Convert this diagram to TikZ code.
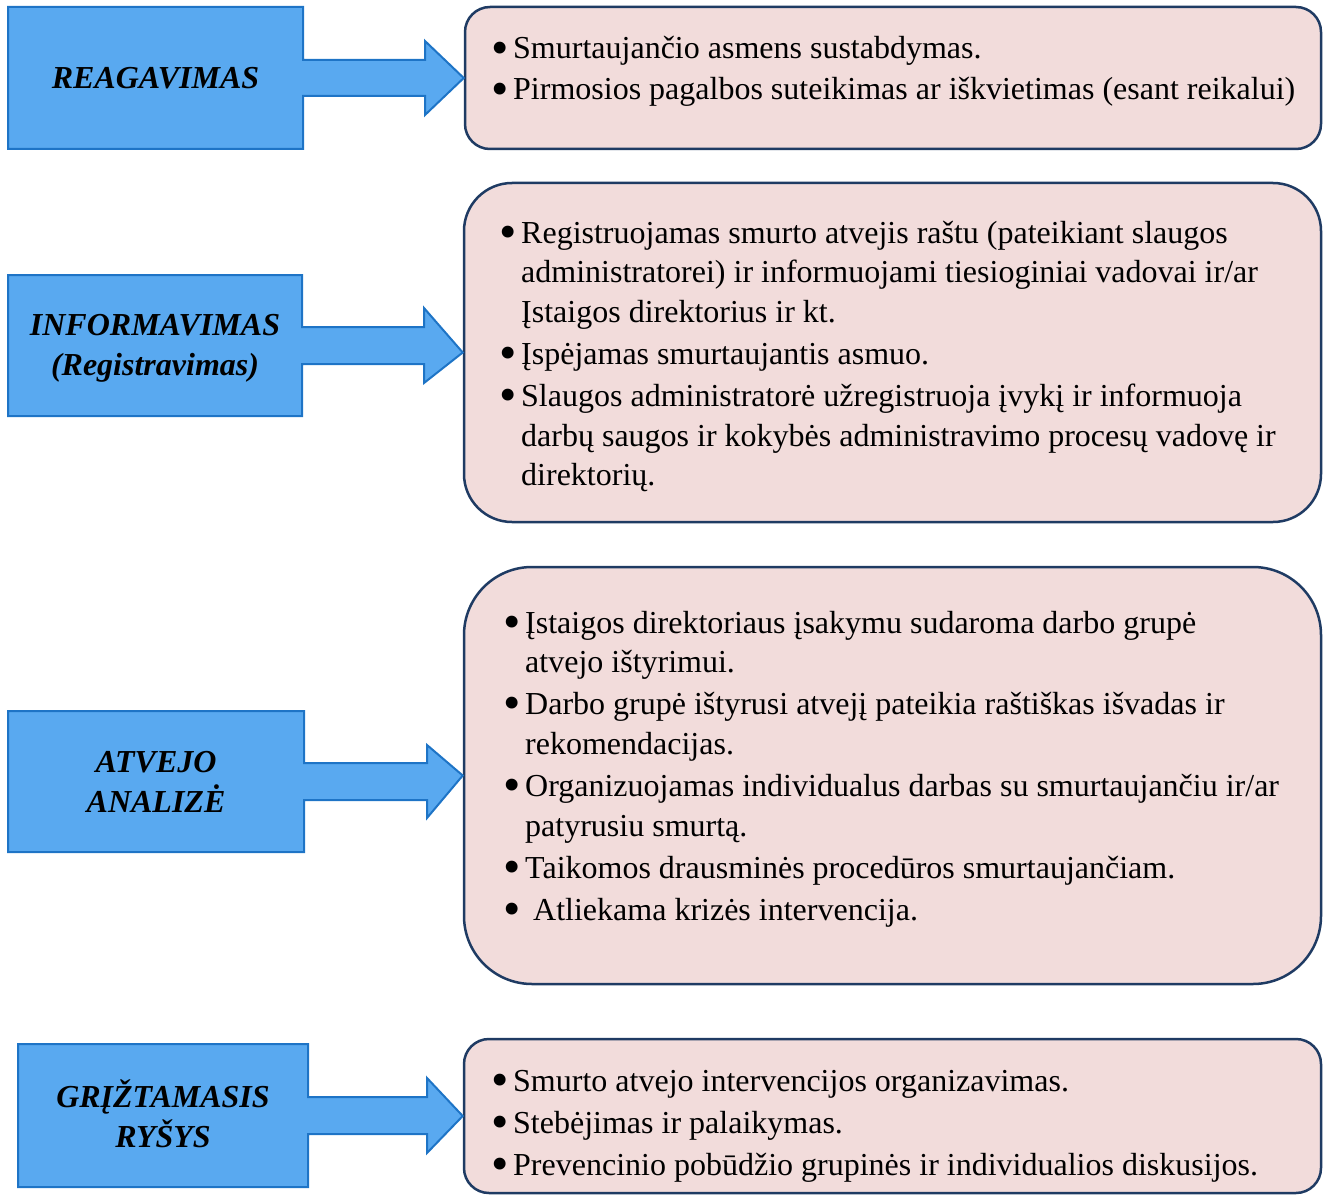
\documentclass[tikz,border=0pt]{standalone}
\usepackage{fontspec}
\usepackage{graphicx}
\setmainfont{Liberation Serif}
\definecolor{bfill}{HTML}{59A9F0}
\definecolor{bline}{HTML}{1E74C6}
\definecolor{pfill}{HTML}{F2DCDB}
\definecolor{pline}{HTML}{1F3B63}
\tikzset{
  blk/.style={fill=bfill,draw=bline,line width=2pt,line join=miter},
  pbox/.style={draw=pline,fill=pfill,line width=2.5pt},
  lbl/.style={align=center,inner sep=0pt,font=\fontsize{32}{40}\selectfont\bfseries\itshape},
  txt/.style={anchor=base west,inner sep=0pt,font=\fontsize{32}{40}\selectfont},
}
\newcommand\bigbul{\smash{\raisebox{-5.5pt}{\scalebox{1.55}{\textbullet}}}}
\newcommand\bitem[4]{\node[txt] (#1) at (#2,#3) {\llap{\bigbul\hspace{4pt}}#4};}
\newcommand\citem[4]{\node[txt] (#1) at (#2,#3) {#4};}
\begin{document}
\begin{tikzpicture}[x=1pt,y=-1pt]
\useasboundingbox (0,0) rectangle (1326,1196);
% pink boxes
\node[pbox,rounded corners=25pt,minimum width=856pt,minimum height=142pt] (p1) at (893,78) {};
\node[pbox,rounded corners=48pt,minimum width=857pt,minimum height=339pt] (p2) at (892.5,352.5) {};
\node[pbox,rounded corners=68pt,minimum width=857pt,minimum height=417pt] (p3) at (892.5,775.5) {};
\node[pbox,rounded corners=25pt,minimum width=857pt,minimum height=154pt] (p4) at (892.5,1116) {};
% block arrows
\draw[blk] (8,7) -- (303,7) -- (303,60) -- (425,60) -- (425,41) -- (p1.west) -- (425,115) -- (425,96) -- (303,96) -- (303,149) -- (8,149) -- cycle;
\draw[blk] (8,275) -- (302,275) -- (302,327) -- (424,327) -- (424,308) -- (p2.west) -- (424,383) -- (424,364) -- (302,364) -- (302,416) -- (8,416) -- cycle;
\draw[blk] (8,711) -- (304,711) -- (304,763) -- (427,763) -- (427,745) -- (p3.west) -- (427,818) -- (427,800) -- (304,800) -- (304,852) -- (8,852) -- cycle;
\draw[blk] (18,1044) -- (308,1044) -- (308,1097) -- (427,1097) -- (427,1078) -- (p4.west) -- (427,1153) -- (427,1134) -- (308,1134) -- (308,1187) -- (18,1187) -- cycle;
% labels
\node[lbl] (l1) at (155.5,78) {REAGAVIMAS};
\node[lbl] (l2) at (155,348.5) {INFORMAVIMAS\\(Registravimas)};
\node[lbl] (l3) at (156,781.5) {ATVEJO\\ANALIZĖ};
\node[lbl] (l4) at (163,1113.5) {GRĮŽTAMASIS\\RYŠYS};
% box 1
\bitem{a1}{513}{59}{Smurtaujančio asmens sustabdymas.}
\bitem{a2}{513}{100}{Pirmosios pagalbos suteikimas ar iškvietimas (esant reikalui)}
% box 2
\bitem{b1}{521}{243}{Registruojamas smurto atvejis raštu (pateikiant slaugos}
\citem{b1b}{521}{282}{administratorei) ir informuojami tiesioginiai vadovai ir/ar}
\citem{b1c}{521}{322}{Įstaigos direktorius ir kt.}
\bitem{b2}{521}{364}{Įspėjamas smurtaujantis asmuo.}
\bitem{b3}{521}{406}{Slaugos administratorė užregistruoja įvykį ir informuoja}
\citem{b3b}{521}{446}{darbų saugos ir kokybės administravimo procesų vadovę ir}
\citem{b3c}{521}{485}{direktorių.}
% box 3
\bitem{c1}{525}{633}{Įstaigos direktoriaus įsakymu sudaroma darbo grupė}
\citem{c1b}{525}{672}{atvejo ištyrimui.}
\bitem{c2}{525}{714}{Darbo grupė ištyrusi atvejį pateikia raštiškas išvadas ir}
\citem{c2b}{525}{754}{rekomendacijas.}
\bitem{c3}{525}{796}{Organizuojamas individualus darbas su smurtaujančiu ir/ar}
\citem{c3b}{525}{836}{patyrusiu smurtą.}
\bitem{c4}{525}{878}{Taikomos drausminės procedūros smurtaujančiam.}
\node[txt] (c5) at (533,920) {\llap{\bigbul\hspace{12pt}}Atliekama krizės intervencija.};
% box 4
\bitem{d1}{513}{1091}{Smurto atvejo intervencijos organizavimas.}
\bitem{d2}{513}{1133}{Stebėjimas ir palaikymas.}
\bitem{d3}{513}{1175}{Prevencinio pobūdžio grupinės ir individualios diskusijos.}
\end{tikzpicture}
\end{document}
